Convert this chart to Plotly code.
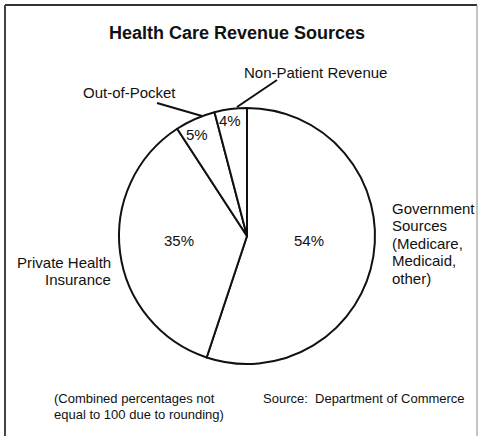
import plotly.graph_objects as go

# Revenue shares (percent, as published; rounded values sum to 98)
sources = ["Government Sources", "Private Health Insurance", "Out-of-Pocket", "Non-Patient Revenue"]
shares = [54, 35, 5, 4]

title_text = "Health Care Revenue Sources"
gov_lines = ["Government", "Sources", "(Medicare,", "Medicaid,", "other)"]
private_lines = ["Private Health", "Insurance"]
note_lines = ["(Combined percentages not", "equal to 100 due to rounding)"]
source_text = "Source:  Department of Commerce"

W, H = 479, 436
FONT = "Liberation Sans, Arial, Helvetica, sans-serif"
INK = "#111111"


def px(x):
    return x / W


def py(y):
    return 1 - y / H


# pie centre and radius in pixels
cx, cy, r = 247, 236, 128

fig = go.Figure(
    go.Pie(
        labels=sources,
        values=shares,
        sort=False,
        direction="clockwise",
        rotation=0,
        textinfo="none",
        hoverinfo="label+value",
        marker=dict(colors=["white"] * len(shares), line=dict(color=INK, width=2)),
        domain=dict(x=[px(cx - r), px(cx + r)], y=[py(cy + r), py(cy - r)]),
        showlegend=False,
    )
)

annotations = []


def note(x, y, text, size=15, xanchor="center", align="center", bold=False):
    annotations.append(
        dict(
            x=px(x), y=py(y), xref="paper", yref="paper",
            text=f"<b>{text}</b>" if bold else text,
            showarrow=False, xanchor=xanchor, yanchor="middle", align=align,
            font=dict(family=FONT, size=size, color=INK),
        )
    )


note(237, 33, title_text, size=18, bold=True)

# percentage labels inside the slices
pct_pos = [(309, 240), (179, 240), (197, 134), (230, 120)]
for (x, y), v in zip(pct_pos, shares):
    note(x, y, f"{v}%")

# category labels, one line at a time for tight leading
for i, line in enumerate(gov_lines):
    note(390, 208 + 17.6 * i, line, xanchor="left")
for i, line in enumerate(private_lines):
    note(113, 262 + 17.5 * i, line, xanchor="right")
note(129, 92, "Out-of-Pocket")
note(315, 72, "Non-Patient Revenue")

# footnotes
for i, line in enumerate(note_lines):
    note(52, 398 + 16 * i, line, size=13, xanchor="left")
note(261, 398, source_text, size=13, xanchor="left")

shapes = [
    # leader lines
    dict(type="line", xref="paper", yref="paper",
         x0=px(157), y0=py(103), x1=px(202), y1=py(116),
         line=dict(color=INK, width=2)),
    dict(type="line", xref="paper", yref="paper",
         x0=px(277), y0=py(80), x1=px(237), y1=py(107),
         line=dict(color=INK, width=2)),
    # frame
    dict(type="line", xref="paper", yref="paper",
         x0=px(5), y0=py(5), x1=px(477), y1=py(5),
         line=dict(color="#333333", width=2)),
    dict(type="line", xref="paper", yref="paper",
         x0=px(5), y0=py(5), x1=px(5), y1=py(440),
         line=dict(color="#444444", width=2)),
    dict(type="line", xref="paper", yref="paper",
         x0=px(477), y0=py(5), x1=px(477), y1=py(440),
         line=dict(color="#888888", width=1)),
]

fig.update_layout(
    width=W, height=H,
    margin=dict(l=0, r=0, t=0, b=0),
    paper_bgcolor="white",
    plot_bgcolor="white",
    annotations=annotations,
    shapes=shapes,
)

fig.write_html("out.html")
